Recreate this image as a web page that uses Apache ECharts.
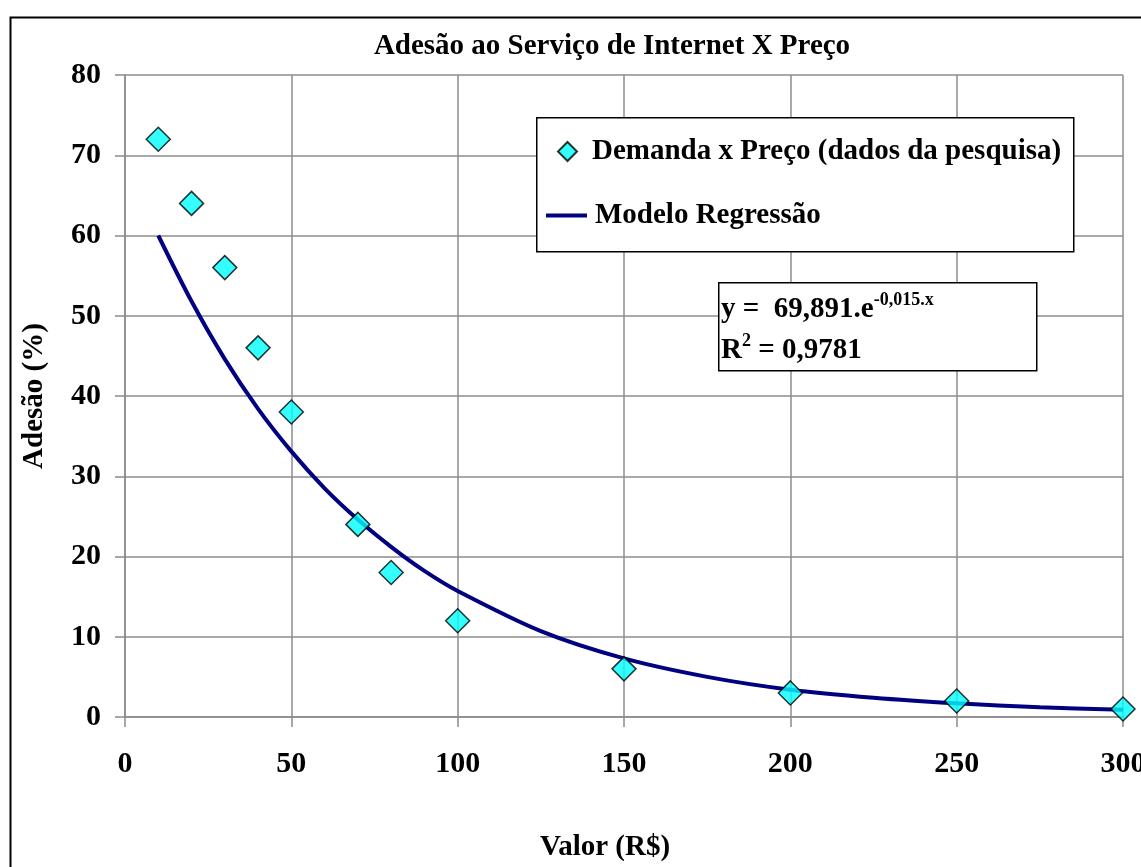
<!DOCTYPE html>
<html>
<head>
<meta charset="utf-8">
<script src="https://cdn.jsdelivr.net/npm/echarts@6/dist/echarts.min.js"></script>
<style>
  html, body { margin: 0; padding: 0; background: #fff; }
  #chart { width: 1141px; height: 867px; }
</style>
</head>
<body>
<div id="chart"></div>
<script>
// pesquisa: preço (R$) x adesão (%)
const precos = [10, 20, 30, 40, 50, 70, 80, 100, 150, 200, 250, 300]
const adesao = [72, 64, 56, 46, 38, 24, 18, 12, 6, 3, 2, 1]

// curva do modelo
const modeloX = [10, 20, 30, 40, 50, 60, 70, 80, 90, 100, 125, 150, 175, 200, 225, 250, 275, 300]
const modeloY = [60, 51.8, 44.6, 38.4, 33.1, 28.5, 24.6, 21.2, 18.2, 15.7, 10.7, 7.3, 5.0, 3.4, 2.4, 1.7, 1.2, 0.9]

const xTicks = [0, 50, 100, 150, 200, 250, 300]
const yTicks = [0, 10, 20, 30, 40, 50, 60, 70, 80]

const SERIE_DADOS = 'Demanda x Preço (dados da pesquisa)'
const SERIE_MODELO = 'Modelo Regressão'

const FONT = '"Liberation Serif", "Times New Roman", serif'
const GRID_COLOR = '#8c8c8c'
const FS = 29

const legendText = { fontFamily: FONT, fontSize: FS, fontWeight: 'bold', color: '#000' }

const chart = echarts.init(document.getElementById('chart'))

chart.setOption({
  animation: false,
  backgroundColor: '#fff',
  textStyle: { fontFamily: FONT },
  title: {
    text: 'Adesão ao Serviço de Internet X Preço',
    left: 607,
    top: 27,
    textAlign: 'center',
    textStyle: { fontFamily: FONT, fontSize: FS, fontWeight: 'bold', color: '#000' }
  },
  grid: {
    left: 125,
    right: 18,
    top: 75,
    bottom: 150,
    outerBoundsMode: 'none',
    containLabel: false,
    show: false
  },
  legend: [
    {
      left: 557,
      top: 137,
      padding: 0,
      z: 8,
      itemWidth: 19,
      itemHeight: 19,
      selectedMode: false,
      textStyle: Object.assign({ padding: [0, 0, 0, 10] }, legendText),
      data: [{ name: SERIE_DADOS, icon: 'diamond' }]
    },
    {
      left: 546,
      top: 201,
      padding: 0,
      z: 8,
      itemWidth: 41,
      itemHeight: 4,
      selectedMode: false,
      textStyle: Object.assign({ padding: [0, 0, 0, 3] }, legendText),
      data: [{ name: SERIE_MODELO, icon: 'rect' }]
    }
  ],
  xAxis: {
    type: 'value',
    min: 0,
    max: 300,
    interval: 50,
    name: 'Valor (R$)',
    nameLocation: 'middle',
    nameGap: 116,
    nameTextStyle: { fontFamily: FONT, fontSize: FS, fontWeight: 'bold', color: '#000', padding: [0, 38, 0, 0] },
    axisLine: { show: true, lineStyle: { color: GRID_COLOR, width: 1.5 } },
    axisTick: { show: true, length: 10, lineStyle: { color: GRID_COLOR, width: 1.5 } },
    axisLabel: {
      margin: 32,
      fontFamily: FONT, fontSize: 30, fontWeight: 'bold', color: '#000',
      formatter: v => xTicks.includes(v) ? String(v) : ''
    },
    splitLine: { show: true, lineStyle: { color: GRID_COLOR, width: 1.5 } }
  },
  yAxis: {
    type: 'value',
    min: 0,
    max: 80,
    interval: 10,
    name: 'Adesão (%)',
    nameLocation: 'middle',
    nameRotate: 90,
    nameGap: 76,
    nameTextStyle: { fontFamily: FONT, fontSize: FS, fontWeight: 'bold', color: '#000' },
    axisLine: { show: true, lineStyle: { color: GRID_COLOR, width: 1.5 } },
    axisTick: { show: true, length: 10, lineStyle: { color: GRID_COLOR, width: 1.5 } },
    axisLabel: {
      margin: 24,
      fontFamily: FONT, fontSize: 30, fontWeight: 'bold', color: '#000',
      formatter: v => yTicks.includes(v) ? String(v) : ''
    },
    splitLine: { show: true, lineStyle: { color: GRID_COLOR, width: 1.5 } }
  },
  series: [
    {
      name: SERIE_MODELO,
      type: 'line',
      data: modeloX.map((x, i) => [x, modeloY[i]]),
      symbol: 'none',
      smooth: 0.3,
      lineStyle: { color: '#000080', width: 4 },
      itemStyle: { color: '#000080' },
      z: 2
    },
    {
      name: SERIE_DADOS,
      type: 'scatter',
      data: precos.map((x, i) => [x, adesao[i]]),
      symbol: 'diamond',
      symbolSize: 24,
      clip: false,
      itemStyle: { color: '#00ffff', borderColor: '#000', borderWidth: 1.5 },
      z: 3
    }
  ],
  graphic: [
    {
      type: 'rect',
      left: 8,
      top: 15,
      shape: { width: 1200, height: 900 },
      style: { fill: 'none', stroke: '#000', lineWidth: 2 },
      silent: true,
      z: 0
    },
    {
      // moldura da legenda
      type: 'rect',
      left: 536,
      top: 117,
      shape: { width: 537, height: 134 },
      style: { fill: '#fff', stroke: '#000', lineWidth: 1.5 },
      silent: true,
      z: 4
    },
    {
      // caixa da equação
      type: 'rect',
      left: 718,
      top: 282,
      shape: { width: 318, height: 88 },
      style: { fill: '#fff', stroke: '#000', lineWidth: 1.5 },
      silent: true,
      z: 9
    },
    {
      type: 'text',
      left: 721,
      top: 283,
      z: 10,
      style: {
        text: '{b|y =  69,891.e}{s|-0,015.x}\n{b|R}{s|2}{b| = 0,9781}',
        fill: '#000',
        rich: {
          b: { fontFamily: FONT, fontSize: FS, fontWeight: 'bold', lineHeight: 41, verticalAlign: 'bottom' },
          s: { fontFamily: FONT, fontSize: 18, fontWeight: 'bold', lineHeight: 41, verticalAlign: 'top', padding: [8, 0, 0, 0] }
        }
      }
    }
  ]
})
</script>
</body>
</html>
